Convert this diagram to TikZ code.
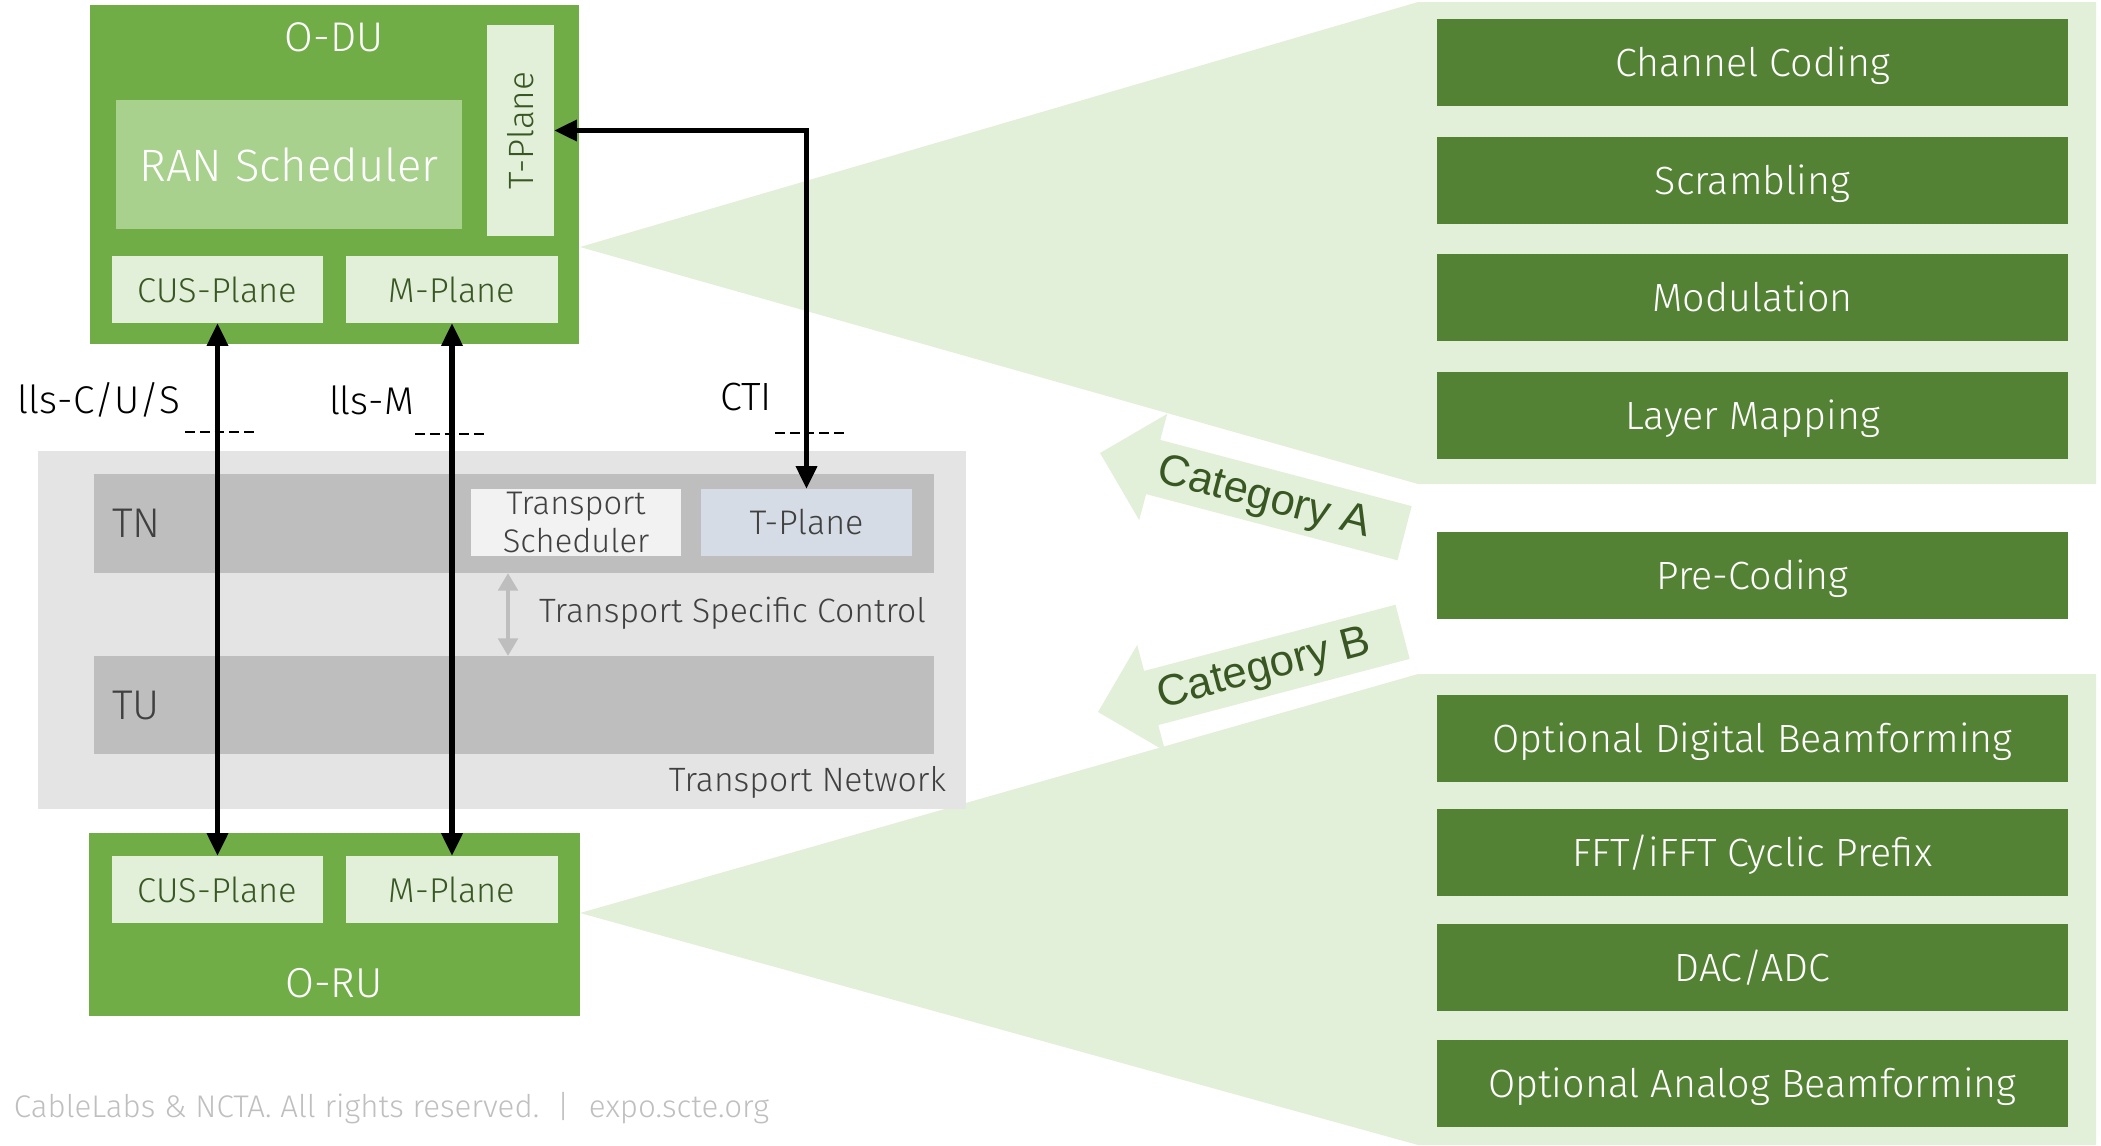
\documentclass[tikz,border=0pt]{standalone}
\usepackage{fontspec}
\setmainfont{Fira Sans Light}
\newfontfamily\catfont{Liberation Sans}
\usetikzlibrary{arrows.meta}
\definecolor{dgreen}{HTML}{70AD47}
\definecolor{rgreen}{HTML}{A9D18E}
\definecolor{lgreen}{HTML}{E2F0D9}
\definecolor{bgreen}{HTML}{548235}
\definecolor{tgreen}{HTML}{385723}
\definecolor{tnbg}{HTML}{E4E4E4}
\definecolor{band}{HTML}{BEBEBE}
\definecolor{schedbg}{HTML}{F2F2F2}
\definecolor{tpbg}{HTML}{D6DCE5}
\definecolor{dgray}{HTML}{404040}
\definecolor{fgray}{HTML}{BFBFBF}
\newcommand\fsz[1]{\fontsize{#1}{1.2\dimexpr#1\relax}\selectfont}
\tikzset{
  base/.style={inner sep=0pt, outer sep=0pt, anchor=center},
  fbox/.style={base, fill=bgreen, minimum width=6.31cm, minimum height=0.87cm, text=white, font=\fsz{11.2pt}, text height=7.7pt, text depth=0pt},
  pbox/.style={base, fill=lgreen, minimum width=2.11cm, minimum height=0.67cm, text=tgreen, font=\fsz{9.8pt}},
  bigarrow/.style={line width=1.5pt, {Triangle[length=6.5pt,width=5.8pt]}-{Triangle[length=6.5pt,width=5.8pt]}},
  dashln/.style={line width=0.6pt, dash pattern=on 2.8pt off 1.4pt},
  lbl/.style={inner sep=0pt, outer sep=0pt},
}
\begin{document}
\begin{tikzpicture}[x=0.01cm,y=-0.01cm]
\useasboundingbox (0,0) rectangle (2101,1145);

% light green fans and panels
\fill[lgreen] (580,247) -- (1418,2) -- (2096,2) -- (2096,484) -- (1418,484) -- cycle;
\fill[lgreen] (580,913) -- (1418,674) -- (2096,674) -- (2096,1145) -- (1418,1145) -- cycle;

% category arrows
\fill[lgreen] (1100,453) -- (1167.2,413.8) -- (1160.3,439.9) -- (1411.7,506.1) -- (1397.5,560.3) -- (1146.1,494.1) -- (1139.2,520.2) -- cycle;
\fill[lgreen] (1098,712) -- (1137.2,644.8) -- (1144.1,670.9) -- (1395.5,604.7) -- (1409.7,658.9) -- (1158.3,725.1) -- (1165.2,751.2) -- cycle;
\node[lbl, rotate=-14.75, text=tgreen, font=\catfont\fsz{12.4pt}] (catA) at (1264,499) {Category A};
\node[lbl, rotate=14.75, text=tgreen, font=\catfont\fsz{12.4pt}] (catB) at (1264,670) {Category B};

% right boxes
\node[fbox] (cc)  at (1752.5,62.5)  {Channel Coding};
\node[fbox] (scr) at (1752.5,180.5) {Scrambling};
\node[fbox] (mod) at (1752.5,297.5) {Modulation};
\node[fbox] (lm)  at (1752.5,415.5) {Layer Mapping};
\node[fbox] (pre) at (1752.5,575.5) {Pre-Coding};
\node[fbox] (odb) at (1752.5,738.5) {Optional Digital Beamforming};
\node[fbox] (fft) at (1752.5,852.5) {FFT/iFFT Cyclic Prefix};
\node[fbox] (dac) at (1752.5,967.5) {DAC/ADC};
\node[fbox] (oab) at (1752.5,1083.5) {Optional Analog Beamforming};

% O-DU
\node[base, fill=dgreen, minimum width=4.89cm, minimum height=3.39cm] (odu) at (334.5,174.5) {};
\node[lbl, text=white, font=\fsz{11.8pt}] (odul) at (334,37.5) {O-DU};
\node[base, fill=rgreen, minimum width=3.46cm, minimum height=1.29cm, text=white, font=\fsz{12.9pt}] (ran) at (289,164.5) {RAN Scheduler};
\node[base, fill=lgreen, minimum width=0.67cm, minimum height=2.11cm] (tpdu) at (520.5,130.5) {};
\node[lbl, rotate=90, text=tgreen, font=\fsz{10pt}] (tpdul) at (tpdu.center) {T-Plane};
\node[pbox] (cusdu) at (217.5,289.5) {CUS-Plane};
\node[pbox] (mdu) at (452,289.5) {M-Plane};

% Transport network
\node[base, fill=tnbg, minimum width=9.28cm, minimum height=3.58cm] (tnet) at (502,630) {};
\node[base, fill=band, minimum width=8.40cm, minimum height=0.99cm] (tn) at (514,523.5) {};
\node[base, fill=band, minimum width=8.40cm, minimum height=0.98cm] (tu) at (514,705) {};
\node[lbl, anchor=west, text=dgray, font=\fsz{11.8pt}] (tnl) at (112,523) {TN};
\node[lbl, anchor=west, text=dgray, font=\fsz{11.8pt}] (tul) at (112,705) {TU};
\node[base, fill=schedbg, minimum width=2.10cm, minimum height=0.67cm, text=dgray, font=\fsz{9.3pt}, align=center] (tsched) at (576,522.5) {Transport\\[-0.5pt]Scheduler};
\node[base, fill=tpbg, minimum width=2.11cm, minimum height=0.67cm, text=dgray, font=\fsz{9.7pt}] (tptn) at (806.5,522.5) {T-Plane};
\coordinate (tscx) at (508,600);
\draw[line width=1.2pt, band, {Triangle[length=5pt,width=5.5pt]}-{Triangle[length=5pt,width=5.5pt]}] (tn.south -| tscx) -- (tu.north -| tscx);
\node[lbl, anchor=west, text=dgray, font=\fsz{9.6pt}] (tscl) at (539,613) {Transport Specific Control};
\node[lbl, anchor=east, text=dgray, font=\fsz{9.6pt}] (tnetl) at (946,782) {Transport Network};

% O-RU
\node[base, fill=dgreen, minimum width=4.91cm, minimum height=1.83cm] (oru) at (334.5,924.5) {};
\node[pbox] (cusru) at (217.5,889.5) {CUS-Plane};
\node[pbox] (mru) at (452,889.5) {M-Plane};
\node[lbl, text=white, font=\fsz{11.9pt}] (orul) at (334,983) {O-RU};

% interface labels and dashes
\node[lbl, anchor=west, font=\fsz{11pt}] (llscus) at (18,400) {lls-C/U/S};
\node[lbl, anchor=west, font=\fsz{11pt}] (llsm) at (329,400) {lls-M};
\node[lbl, anchor=west, font=\fsz{11.2pt}] (cti) at (720,397) {CTI};
\draw[dashln] (185,432) -- (255,432);
\draw[dashln] (415,434) -- (487,434);
\draw[dashln] (775,433) -- (846,433);

% connectors
\draw[bigarrow] (cusdu.south) -- (cusru.north);
\draw[bigarrow] (mdu.south) -- (mru.north);
\draw[bigarrow] (tpdu.east) -| (tptn.north);

% footer
\node[lbl, anchor=east, text=fgray, font=\fsz{8.9pt}] (foot) at (769,1108) {CableLabs \& NCTA. All rights reserved.\hspace{5pt}|\hspace{5.5pt}expo.scte.org};
\end{tikzpicture}
\end{document}
